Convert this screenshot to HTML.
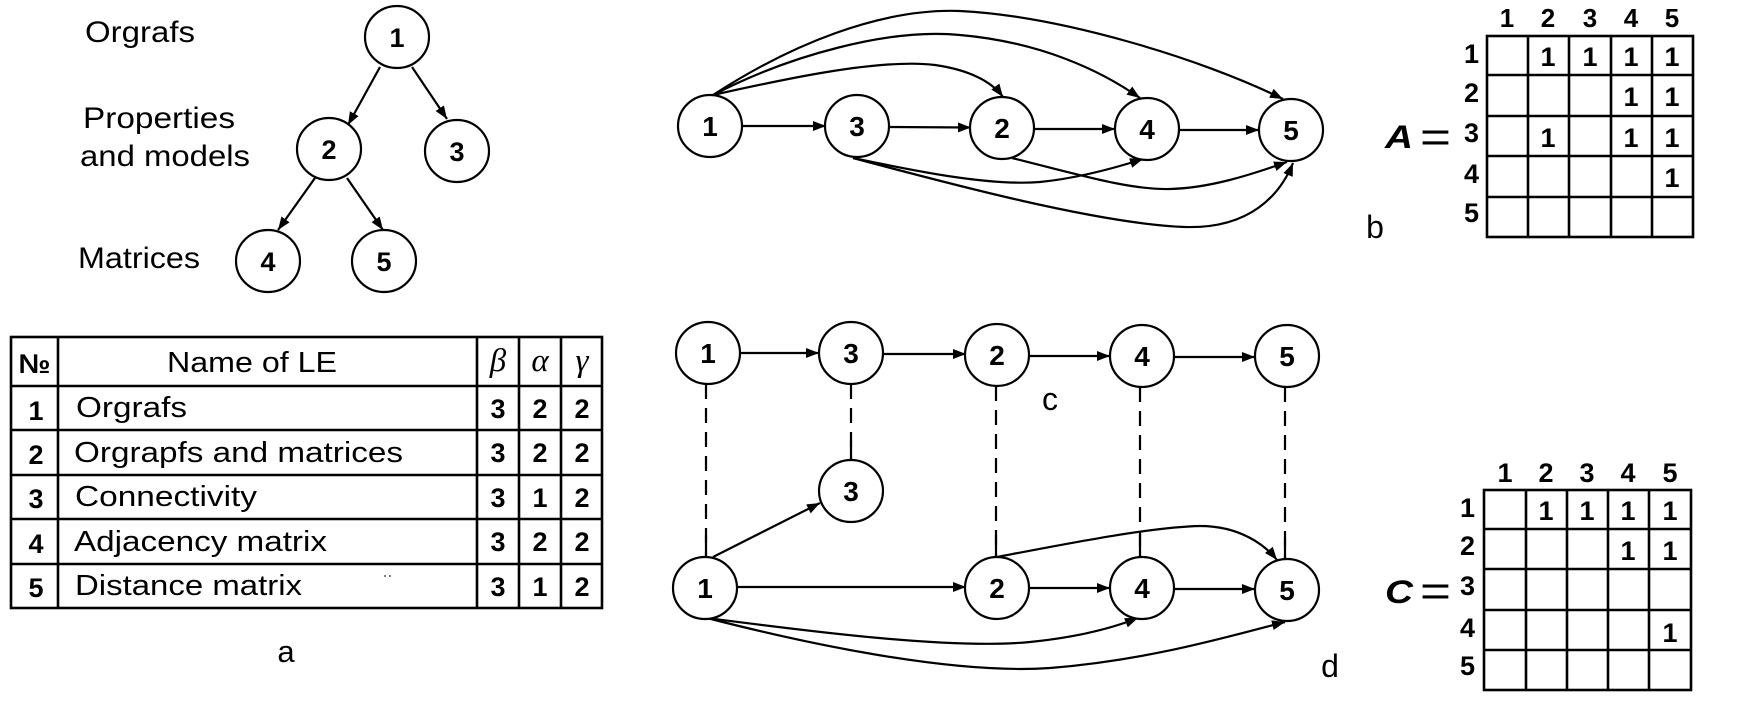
<!DOCTYPE html>
<html>
<head>
<meta charset="utf-8">
<style>
  html,body{margin:0;padding:0;background:#fff;}
  body{width:1739px;height:719px;overflow:hidden;}
  svg{display:block;}
  .t{font-family:"Liberation Sans",Arial,sans-serif;fill:#000;}
  .b{font-family:"Liberation Sans",Arial,sans-serif;font-weight:bold;fill:#000;}
  .g{font-family:"Liberation Serif","Times New Roman",serif;font-style:italic;fill:#000;}
  .n{fill:#fff;stroke:#000;stroke-width:2.2;}
  .e{fill:none;stroke:#000;stroke-width:2.2;}
  .d{fill:none;stroke:#000;stroke-width:2.2;stroke-dasharray:15 9;}
  .grid{stroke:#000;stroke-width:2.6;fill:none;}
</style>
</head>
<body>
<svg width="1739" height="719" viewBox="0 0 1739 719" xmlns="http://www.w3.org/2000/svg">
<defs>
  <marker id="ar" markerUnits="userSpaceOnUse" markerWidth="16" markerHeight="12" refX="13" refY="5" orient="auto">
    <path d="M0,0 L13,5 L0,10 z" fill="#000"/>
  </marker>
</defs>

<!-- ===== Tree (top-left) ===== -->
<text class="t" x="85" y="42" font-size="30" textLength="110" lengthAdjust="spacingAndGlyphs">Orgrafs</text>
<text class="t" x="83" y="128" font-size="30" textLength="152" lengthAdjust="spacingAndGlyphs">Properties</text>
<text class="t" x="80" y="166" font-size="30" textLength="170" lengthAdjust="spacingAndGlyphs">and models</text>
<text class="t" x="78" y="268" font-size="30" textLength="122" lengthAdjust="spacingAndGlyphs">Matrices</text>

<path class="e" d="M380,67 L348,125" marker-end="url(#ar)"/>
<path class="e" d="M412,67 L447,119" marker-end="url(#ar)"/>
<path class="e" d="M315,178 L278,230" marker-end="url(#ar)"/>
<path class="e" d="M347,178 L383,230" marker-end="url(#ar)"/>

<ellipse class="n" cx="397" cy="37" rx="32" ry="31"/>
<ellipse class="n" cx="329" cy="149" rx="32" ry="31"/>
<ellipse class="n" cx="457" cy="151" rx="32" ry="31"/>
<ellipse class="n" cx="268" cy="261" rx="32" ry="31"/>
<ellipse class="n" cx="384" cy="261" rx="32" ry="31"/>
<g class="b" font-size="27" text-anchor="middle">
  <text x="397" y="47">1</text>
  <text x="329" y="159">2</text>
  <text x="457" y="161">3</text>
  <text x="268" y="271">4</text>
  <text x="384" y="271">5</text>
</g>

<!-- ===== Table (a) ===== -->
<g class="grid">
  <rect x="11" y="337" width="591" height="271"/>
  <line x1="58" y1="337" x2="58" y2="608"/>
  <line x1="477" y1="337" x2="477" y2="608"/>
  <line x1="519" y1="337" x2="519" y2="608"/>
  <line x1="561" y1="337" x2="561" y2="608"/>
  <line x1="11" y1="386" x2="602" y2="386"/>
  <line x1="11" y1="430" x2="602" y2="430"/>
  <line x1="11" y1="475" x2="602" y2="475"/>
  <line x1="11" y1="519" x2="602" y2="519"/>
  <line x1="11" y1="564" x2="602" y2="564"/>
</g>
<text class="b" x="34.5" y="373" font-size="27" text-anchor="middle" textLength="32" lengthAdjust="spacingAndGlyphs">№</text>
<text class="t" x="167" y="372" font-size="29" textLength="170" lengthAdjust="spacingAndGlyphs">Name of LE</text>
<g class="g" font-size="33" text-anchor="middle">
  <text x="498" y="371">β</text>
  <text x="540" y="371">α</text>
  <text x="582" y="371">γ</text>
</g>
<g class="t" font-size="29">
  <text x="76" y="417" textLength="111" lengthAdjust="spacingAndGlyphs">Orgrafs</text>
  <text x="74" y="462" textLength="329" lengthAdjust="spacingAndGlyphs">Orgrapfs and matrices</text>
  <text x="75" y="506" textLength="182" lengthAdjust="spacingAndGlyphs">Connectivity</text>
  <text x="74" y="551" textLength="253" lengthAdjust="spacingAndGlyphs">Adjacency matrix</text>
  <text x="75" y="595" textLength="227" lengthAdjust="spacingAndGlyphs">Distance matrix</text>
</g>
<g class="b" font-size="27" text-anchor="middle">
  <text x="36" y="420">1</text>
  <text x="36" y="464">2</text>
  <text x="36" y="508">3</text>
  <text x="36" y="553">4</text>
  <text x="36" y="597">5</text>

  <text x="498" y="418">3</text><text x="540" y="418">2</text><text x="582" y="418">2</text>
  <text x="498" y="462">3</text><text x="540" y="462">2</text><text x="582" y="462">2</text>
  <text x="498" y="507">3</text><text x="540" y="507">1</text><text x="582" y="507">2</text>
  <text x="498" y="551">3</text><text x="540" y="551">2</text><text x="582" y="551">2</text>
  <text x="498" y="596">3</text><text x="540" y="596">1</text><text x="582" y="596">2</text>
</g>
<circle cx="385" cy="576" r="1" fill="#555"/>
<circle cx="390" cy="576" r="1" fill="#555"/>
<text class="t" x="286" y="662" font-size="31" text-anchor="middle">a</text>

<!-- ===== Graph b ===== -->
<g class="e">
  <path d="M742,126 L826,126" marker-end="url(#ar)"/>
  <path d="M889,127 L971,127.5" marker-end="url(#ar)"/>
  <path d="M1034,129 L1115,129" marker-end="url(#ar)"/>
  <path d="M1179,130 L1259,130" marker-end="url(#ar)"/>
  <!-- 1->2 -->
  <path d="M713,95 C780,80 880,58 935,65 C970,70 992,82 1003,97" marker-end="url(#ar)"/>
  <!-- 1->4 -->
  <path d="M713,95 C790,55 890,28 960,35 C1040,42 1100,70 1140,98" marker-end="url(#ar)"/>
  <!-- 1->5 -->
  <path d="M713,95 C790,45 880,8 960,11 C1060,16 1200,58 1283,99" marker-end="url(#ar)"/>
  <!-- 3->4 -->
  <path d="M853,158 C920,172 990,186 1040,182 C1080,178 1118,167 1143,159" marker-end="url(#ar)"/>
  <!-- 3->5 -->
  <path d="M853,158 C950,184 1100,224 1185,227 C1250,229 1280,195 1293,163" marker-end="url(#ar)"/>
  <!-- 2->5 -->
  <path d="M1012,158 C1080,175 1130,190 1170,189 C1210,188 1250,175 1287,162" marker-end="url(#ar)"/>
</g>
<ellipse class="n" cx="710" cy="126" rx="32" ry="31"/>
<ellipse class="n" cx="857" cy="126" rx="32" ry="31"/>
<ellipse class="n" cx="1002" cy="128" rx="32" ry="31"/>
<ellipse class="n" cx="1147" cy="129" rx="32" ry="31"/>
<ellipse class="n" cx="1291" cy="130" rx="32" ry="31"/>
<g class="b" font-size="28" text-anchor="middle">
  <text x="710" y="136">1</text>
  <text x="857" y="136">3</text>
  <text x="1002" y="138">2</text>
  <text x="1147" y="139">4</text>
  <text x="1291" y="140">5</text>
</g>
<text class="t" x="1375" y="238" font-size="32" text-anchor="middle">b</text>

<!-- ===== Matrix A ===== -->
<g class="grid">
  <rect x="1487" y="36" width="206" height="201"/>
  <line x1="1528" y1="36" x2="1528" y2="237"/>
  <line x1="1569" y1="36" x2="1569" y2="237"/>
  <line x1="1611" y1="36" x2="1611" y2="237"/>
  <line x1="1652" y1="36" x2="1652" y2="237"/>
  <line x1="1487" y1="75" x2="1693" y2="75"/>
  <line x1="1487" y1="116" x2="1693" y2="116"/>
  <line x1="1487" y1="156" x2="1693" y2="156"/>
  <line x1="1487" y1="197" x2="1693" y2="197"/>
</g>
<g class="b" font-size="26" text-anchor="middle">
  <text x="1507" y="27">1</text><text x="1548" y="27">2</text><text x="1590" y="27">3</text><text x="1631" y="27">4</text><text x="1672" y="27">5</text>
</g>
<g class="b" font-size="27" text-anchor="end">
  <text x="1479" y="63">1</text><text x="1479" y="102">2</text><text x="1479" y="142">3</text><text x="1479" y="183">4</text><text x="1479" y="222">5</text>
</g>
<g class="b" font-size="27" text-anchor="middle">
  <text x="1548" y="66">1</text><text x="1590" y="66">1</text><text x="1631" y="66">1</text><text x="1672" y="66">1</text>
  <text x="1631" y="106">1</text><text x="1672" y="106">1</text>
  <text x="1548" y="147">1</text><text x="1631" y="147">1</text><text x="1672" y="147">1</text>
  <text x="1672" y="187">1</text>
</g>
<text class="b" x="1385" y="148" font-size="32" font-style="italic" textLength="28" lengthAdjust="spacingAndGlyphs">A</text>
<text class="t" x="1420" y="152" font-size="44" textLength="31" lengthAdjust="spacingAndGlyphs">=</text>

<!-- ===== Graph c / d ===== -->
<g class="d">
  <line x1="706" y1="384" x2="706" y2="557"/>
  <line x1="851" y1="384" x2="851" y2="460"/>
  <line x1="996" y1="386" x2="996" y2="557"/>
  <line x1="1140" y1="387" x2="1140" y2="558"/>
  <line x1="1285" y1="387" x2="1285" y2="559"/>
</g>
<g class="e">
  <line x1="706" y1="535" x2="706" y2="557"/>
  <line x1="851" y1="440" x2="851" y2="460"/>
  <line x1="996" y1="535" x2="996" y2="557"/>
  <line x1="1140" y1="534" x2="1140" y2="558"/>
  <line x1="1285" y1="538" x2="1285" y2="559"/>
</g>
<g class="e">
  <path d="M740,353 L819,353" marker-end="url(#ar)"/>
  <path d="M883,354 L966,354" marker-end="url(#ar)"/>
  <path d="M1029,356 L1110,356" marker-end="url(#ar)"/>
  <path d="M1174,357 L1255,357" marker-end="url(#ar)"/>

  <path d="M737,587 L966,587" marker-end="url(#ar)"/>
  <path d="M1029,588 L1110,588" marker-end="url(#ar)"/>
  <path d="M1174,589 L1255,589" marker-end="url(#ar)"/>
  <path d="M713,557 L820,503" marker-end="url(#ar)"/>
  <!-- 2->5 top curve -->
  <path d="M997,557 C1060,545 1150,527 1200,526 C1240,526 1265,545 1277,560" marker-end="url(#ar)"/>
  <!-- 1->4 -->
  <path d="M707,618 C800,630 950,650 1030,642 C1080,637 1115,627 1138,618" marker-end="url(#ar)"/>
  <!-- 1->5 -->
  <path d="M707,618 C800,642 950,675 1050,668 C1150,660 1230,636 1285,622" marker-end="url(#ar)"/>
</g>
<ellipse class="n" cx="708" cy="353" rx="32" ry="31"/>
<ellipse class="n" cx="851" cy="353" rx="32" ry="31"/>
<ellipse class="n" cx="997" cy="355" rx="32" ry="31"/>
<ellipse class="n" cx="1142" cy="356" rx="32" ry="31"/>
<ellipse class="n" cx="1287" cy="356" rx="32" ry="31"/>
<ellipse class="n" cx="851" cy="491" rx="32" ry="31"/>
<ellipse class="n" cx="705" cy="588" rx="32" ry="31"/>
<ellipse class="n" cx="997" cy="588" rx="32" ry="31"/>
<ellipse class="n" cx="1142" cy="588" rx="32" ry="31"/>
<ellipse class="n" cx="1287" cy="590" rx="32" ry="31"/>
<g class="b" font-size="28" text-anchor="middle">
  <text x="708" y="363">1</text>
  <text x="851" y="363">3</text>
  <text x="997" y="365">2</text>
  <text x="1142" y="366">4</text>
  <text x="1287" y="366">5</text>
  <text x="851" y="501">3</text>
  <text x="705" y="598">1</text>
  <text x="997" y="598">2</text>
  <text x="1142" y="598">4</text>
  <text x="1287" y="600">5</text>
</g>
<text class="t" x="1050" y="410" font-size="32" text-anchor="middle">c</text>
<text class="t" x="1330" y="677" font-size="32" text-anchor="middle">d</text>

<!-- ===== Matrix C ===== -->
<g class="grid">
  <rect x="1484" y="490" width="207" height="200"/>
  <line x1="1526" y1="490" x2="1526" y2="690"/>
  <line x1="1567" y1="490" x2="1567" y2="690"/>
  <line x1="1608" y1="490" x2="1608" y2="690"/>
  <line x1="1649" y1="490" x2="1649" y2="690"/>
  <line x1="1484" y1="529" x2="1691" y2="529"/>
  <line x1="1484" y1="569" x2="1691" y2="569"/>
  <line x1="1484" y1="610" x2="1691" y2="610"/>
  <line x1="1484" y1="650" x2="1691" y2="650"/>
</g>
<g class="b" font-size="27" text-anchor="middle">
  <text x="1505" y="482">1</text><text x="1546" y="482">2</text><text x="1587" y="482">3</text><text x="1628" y="482">4</text><text x="1670" y="482">5</text>
</g>
<g class="b" font-size="27" text-anchor="end">
  <text x="1475" y="517">1</text><text x="1475" y="555">2</text><text x="1475" y="595">3</text><text x="1475" y="637">4</text><text x="1475" y="675">5</text>
</g>
<g class="b" font-size="27" text-anchor="middle">
  <text x="1546" y="520">1</text><text x="1587" y="520">1</text><text x="1628" y="520">1</text><text x="1670" y="520">1</text>
  <text x="1628" y="560">1</text><text x="1670" y="560">1</text>
  <text x="1670" y="642">1</text>
</g>
<text class="b" x="1385" y="603" font-size="32" font-style="italic" textLength="28" lengthAdjust="spacingAndGlyphs">C</text>
<text class="t" x="1420" y="606" font-size="44" textLength="31" lengthAdjust="spacingAndGlyphs">=</text>
</svg>
</body>
</html>
